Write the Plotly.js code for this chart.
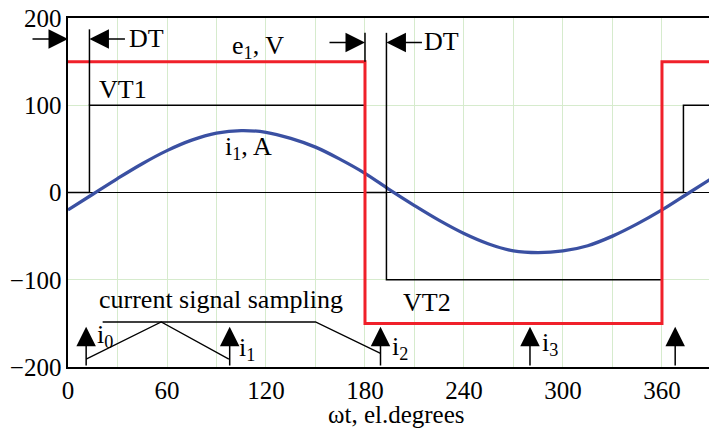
<!DOCTYPE html>
<html>
<head>
<meta charset="utf-8">
<script src="https://cdn.plot.ly/plotly-3.0.1.min.js"></script>
<style>html,body{margin:0;padding:0;background:#fff;overflow:hidden}#chart{width:709px;height:429px}</style>
</head>
<body>
<div id="chart"></div>
<script>
// ---- data ----
const angle = [0,15,30,45,60,75,90,105,120,135,150,165,180,195,210,225,240,255,270,285,300,315,330,345,360,375,390];
const current = [-20,-2,16,33,48,60,68,71,69,62,52,38,22,3,-15,-32,-47,-59,-67,-69,-67,-61,-50,-36,-20,-2,16];
const eAngle = [0,180,360,390];
const eVolt = [150,-150,150,150];
const vtAngle = [0,13,180,193,360,373,390];
const vtLevel = [0,100,0,-100,0,100,100];
const rampX = [11,56.5,97.5];
const rampY = [-191,-148.4,-191];
const bracketX = [21,150,189.4];
const bracketY = [-148.4,-148.4,-184.3];
const sampleAngle = [11,98,189.4,280,368];
const sampleTip = -154;
const dtTips = [[0,176,-1],[13,176,1],[180,172,-1],[193,172,1]];
const dtMarks = [[13,100,187],[180,150,183],[193,0,183]];
const xTicks = [0,60,120,180,240,300,360];
const yTicks = [-200,-100,0,100,200];
const xTitle = 'ωt, el.degrees';

const FONT = 'Liberation Serif';
const FS = 25;
const LFS = 26;
const GRID = '#d6ebcd';

const traces = [
  {x: vtAngle, y: vtLevel, mode:'lines', line:{shape:'hv', color:'#000', width:1.5}, hoverinfo:'skip'},
  {x: rampX, y: rampY, mode:'lines', line:{color:'#000', width:1.3}, hoverinfo:'skip'},
  {x: bracketX, y: bracketY, mode:'lines', line:{color:'#000', width:1.3}, hoverinfo:'skip'},
  {x: angle, y: current, mode:'lines', line:{shape:'spline', color:'#3a50a2', width:3.3}, hoverinfo:'skip'},
  {x: eAngle, y: eVolt, mode:'lines', line:{shape:'hv', color:'#f0202a', width:3}, hoverinfo:'skip'}
];

const shapes = dtMarks.map(m => ({type:'line', xref:'x', yref:'y', x0:m[0], x1:m[0], y0:m[1], y1:m[2], line:{color:'#000', width:1.5}}));

const annotations = [];
sampleAngle.forEach(a => annotations.push({x:a, y:sampleTip, ax:a, ay:-200, axref:'x', ayref:'y', xref:'x', yref:'y', text:'', showarrow:true, arrowhead:2, arrowsize:2.6, arrowwidth:1.5, arrowcolor:'#000', standoff:0}));
dtTips.forEach(d => annotations.push({x:d[0], y:d[1], xref:'x', yref:'y', ax:d[2]*37, ay:0, text:'', showarrow:true, arrowhead:2, arrowsize:2.6, arrowwidth:1.5, arrowcolor:'#000', standoff:0}));

function label(txt, x, y){
  annotations.push({x:x, y:y, xref:'x', yref:'y', text:txt, showarrow:false, xanchor:'left', yanchor:'middle', font:{family:FONT, size:LFS, color:'#000'}});
}
label('DT', 36, 176);
label('DT', 214.8, 172.5);
label('e<sub>1</sub>, V', 97.9, 167);
label('VT1', 17.3, 118.6);
label('i<sub>1</sub>, A', 93.8, 51);
label('VT2', 202, -125.5);
label('current signal sampling', 17.3, -123);
label('i<sub>0</sub>', 16.5, -165);
label('i<sub>1</sub>', 102.7, -179);
label('i<sub>2</sub>', 195, -178);
label('i<sub>3</sub>', 285.8, -174);
annotations.push({x:0.513, y:-0.136, xref:'paper', yref:'paper', text:xTitle, showarrow:false, xanchor:'center', yanchor:'middle', font:{family:FONT, size:25, color:'#000'}});

const layout = {
  width:709, height:429,
  margin:{l:68, r:0, t:18, b:62},
  paper_bgcolor:'#fff', plot_bgcolor:'#fff',
  showlegend:false,
  font:{family:FONT, size:FS, color:'#000'},
  xaxis:{range:[0,388.5], tickvals:xTicks, ticks:'', showgrid:true, gridcolor:GRID, gridwidth:1,
         minor:{dtick:30, tick0:0, showgrid:true, gridcolor:GRID, gridwidth:1},
         zeroline:false, showline:true, linecolor:'#000', linewidth:1.6, mirror:true,
         tickfont:{family:FONT, size:FS, color:'#000'}},
  yaxis:{range:[-200,200], tickvals:yTicks, ticks:'', showgrid:true, gridcolor:GRID, gridwidth:1,
         zeroline:true, zerolinecolor:'#000', zerolinewidth:1.5,
         showline:true, linecolor:'#000', linewidth:1.6, mirror:false,
         tickfont:{family:FONT, size:FS, color:'#000'}},
  shapes:shapes,
  annotations:annotations
};

Plotly.newPlot('chart', traces, layout, {staticPlot:true, displayModeBar:false});
</script>
</body>
</html>
